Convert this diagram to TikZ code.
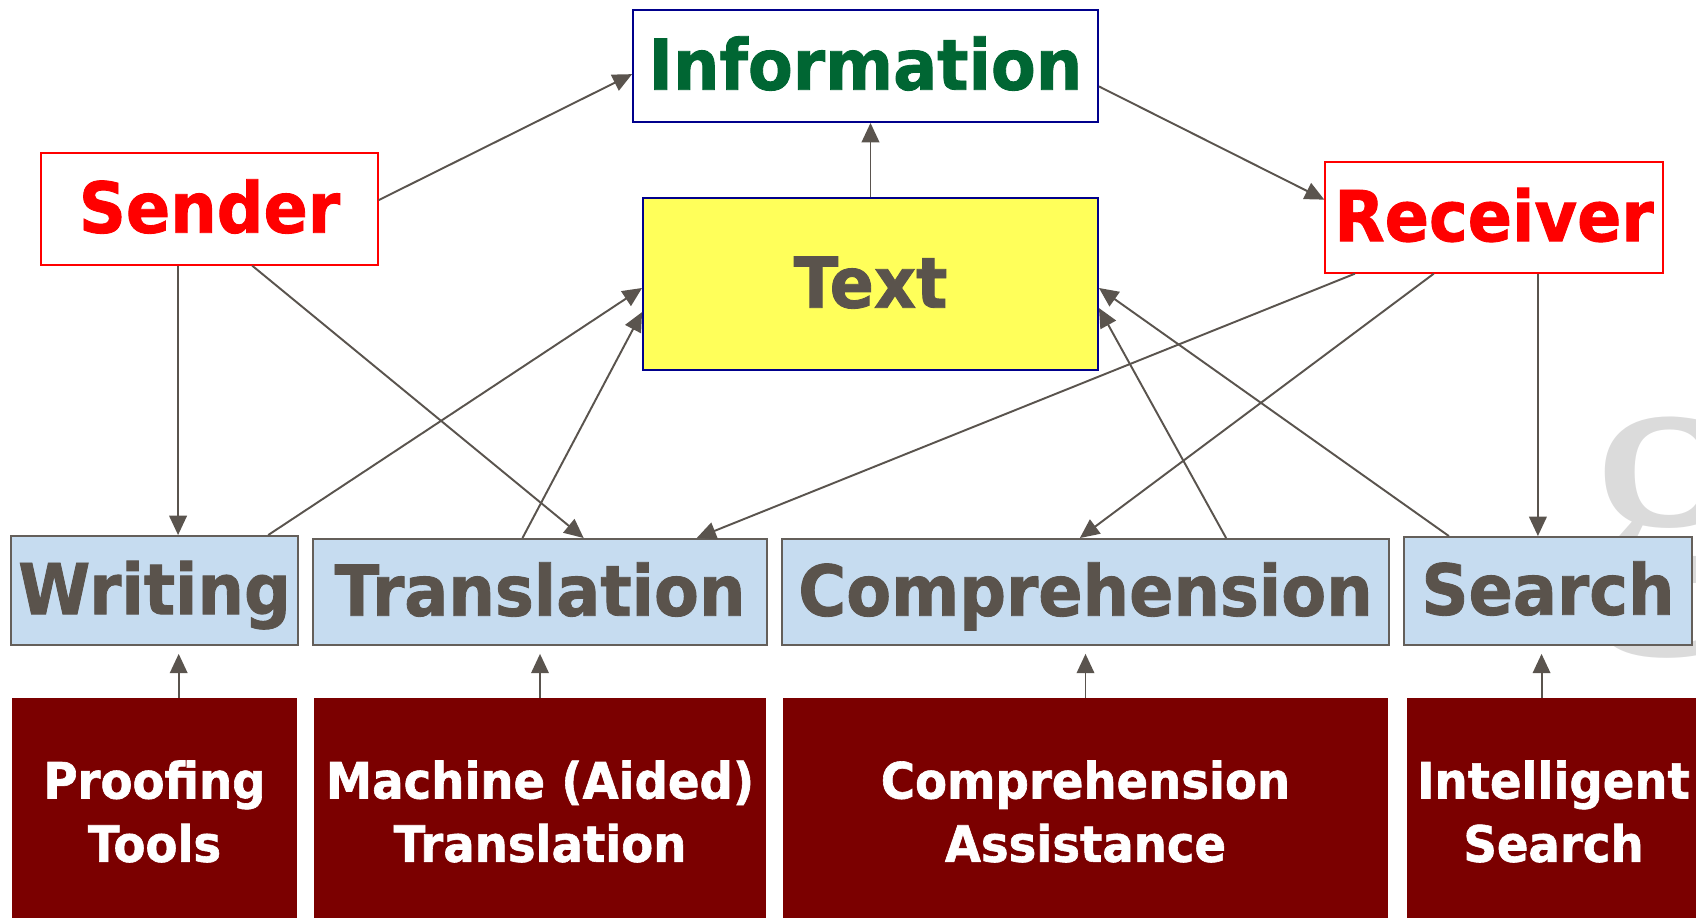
\documentclass[tikz,border=0pt]{standalone}
\usepackage{fontspec}
\usetikzlibrary{arrows.meta}
\newfontfamily\labfont[FakeStretch=0.93, FakeBold=1.2]{DejaVu Sans}
\newfontfamily\wmfont{Liberation Serif}
\definecolor{infogreen}{RGB}{0,102,51}
\definecolor{navyedge}{RGB}{0,0,140}
\definecolor{textgray}{RGB}{90,83,76}
\definecolor{taskblue}{RGB}{198,220,240}
\definecolor{taskedge}{RGB}{100,95,90}
\definecolor{toolred}{RGB}{123,0,0}
\definecolor{textyellow}{RGB}{255,255,90}
\definecolor{arrowc}{RGB}{90,84,78}

\begin{document}
\begin{tikzpicture}[x=0.02cm, y=-0.02cm,
                    every node/.style={inner sep=0pt, align=center},
                    big/.style={font=\labfont\bfseries\fontsize{40}{40}\selectfont, text height=29pt, text depth=2pt},
                    small/.style={font=\labfont\bfseries\fontsize{28.5}{36}\selectfont, text=white},
                    infobox/.style={big, draw=navyedge, line width=1.1pt, fill=white, text=infogreen},
                    partybox/.style={big, draw=red, line width=0.8pt, fill=white, text=red},
                    textbox/.style={big, draw=navyedge, line width=1.1pt, fill=textyellow, text=textgray},
                    taskbox/.style={big, draw=taskedge, line width=1.1pt, fill=taskblue, text=textgray},
                    toolbox/.style={small, fill=toolred, minimum height=4.54cm},
                    conn/.style={draw=arrowc, line width=1.1pt, -{Triangle[length=11pt, width=10pt]}}]
\useasboundingbox (0,0) rectangle (1696,918);

% faint letter behind the search box
\node[anchor=base west, text=black!14, font=\wmfont\fontsize{200}{200}\selectfont] (wm) at (1584,582) {g};

\node[infobox, minimum width=9.3cm, minimum height=2.24cm] (Info) at (865.5,66) {Information};
\node[partybox, minimum width=6.74cm, minimum height=2.24cm] (Sender) at (209.5,209) {Sender};
\node[partybox, minimum width=6.76cm, minimum height=2.22cm] (Receiver) at (1494,217.5) {Receiver};
\node[textbox, minimum width=9.1cm, minimum height=3.44cm] (Text) at (870.5,284) {Text};

\node[taskbox, minimum width=5.74cm, minimum height=2.18cm] (Writing) at (154.5,590.5) {Writing};
\node[taskbox, minimum width=9.08cm, minimum height=2.12cm] (Transl) at (540,592) {Translation};
\node[taskbox, minimum width=12.14cm, minimum height=2.12cm] (Compr) at (1085.5,592) {Comprehension};
\node[taskbox, minimum width=5.76cm, minimum height=2.16cm] (Search) at (1548,591) {Search};

\node[toolbox, minimum width=5.7cm] (Proof) at (154.5,811.5) {Proofing\\Tools};
\node[toolbox, minimum width=9.04cm] (MAT) at (540,811.5) {Machine (Aided)\\Translation};
\node[toolbox, minimum width=12.1cm] (Assist) at (1085.5,811.5) {Comprehension\\Assistance};
\node[toolbox, minimum width=5.86cm] (Intel) at (1553.5,811.5) {Intelligent\\Search};

% top level
\draw[conn] (Sender.3) -- (Info.182);
\draw[conn] (Info.-5) -- (Receiver.174);
\draw[conn] (Text.north) -- (Text.north |- Info.south);

% sender and receiver to the tasks
\draw[conn] (Sender.-119) -- (Sender.-119 |- Writing.north);
\draw[conn] (Sender.-53) -- (Transl.51);
\draw[conn] (Receiver.-158) -- (Transl.19);
\draw[conn] (Receiver.-137) -- (Compr.96);
\draw[conn] (Receiver.-52) -- (Receiver.-52 |- Search.north);

% tasks to the text
\draw[conn] (Writing.26) -- (Text.181);
\draw[conn] (Transl.108) -- (Text.187);
\draw[conn] (Compr.21) -- (Text.-6);
\draw[conn] (Search.151) -- (Text.-1);

% tools to the tasks
\draw[conn, shorten >=4.5pt] (Proof.78) -- (Proof.78 |- Writing.south);
\draw[conn, shorten >=4.5pt] (MAT.north) -- (Transl.south);
\draw[conn, shorten >=4.5pt] (Assist.north) -- (Compr.south);
\draw[conn, shorten >=4.5pt] (Intel.96) -- (Intel.96 |- Search.south);
\end{tikzpicture}
\end{document}
